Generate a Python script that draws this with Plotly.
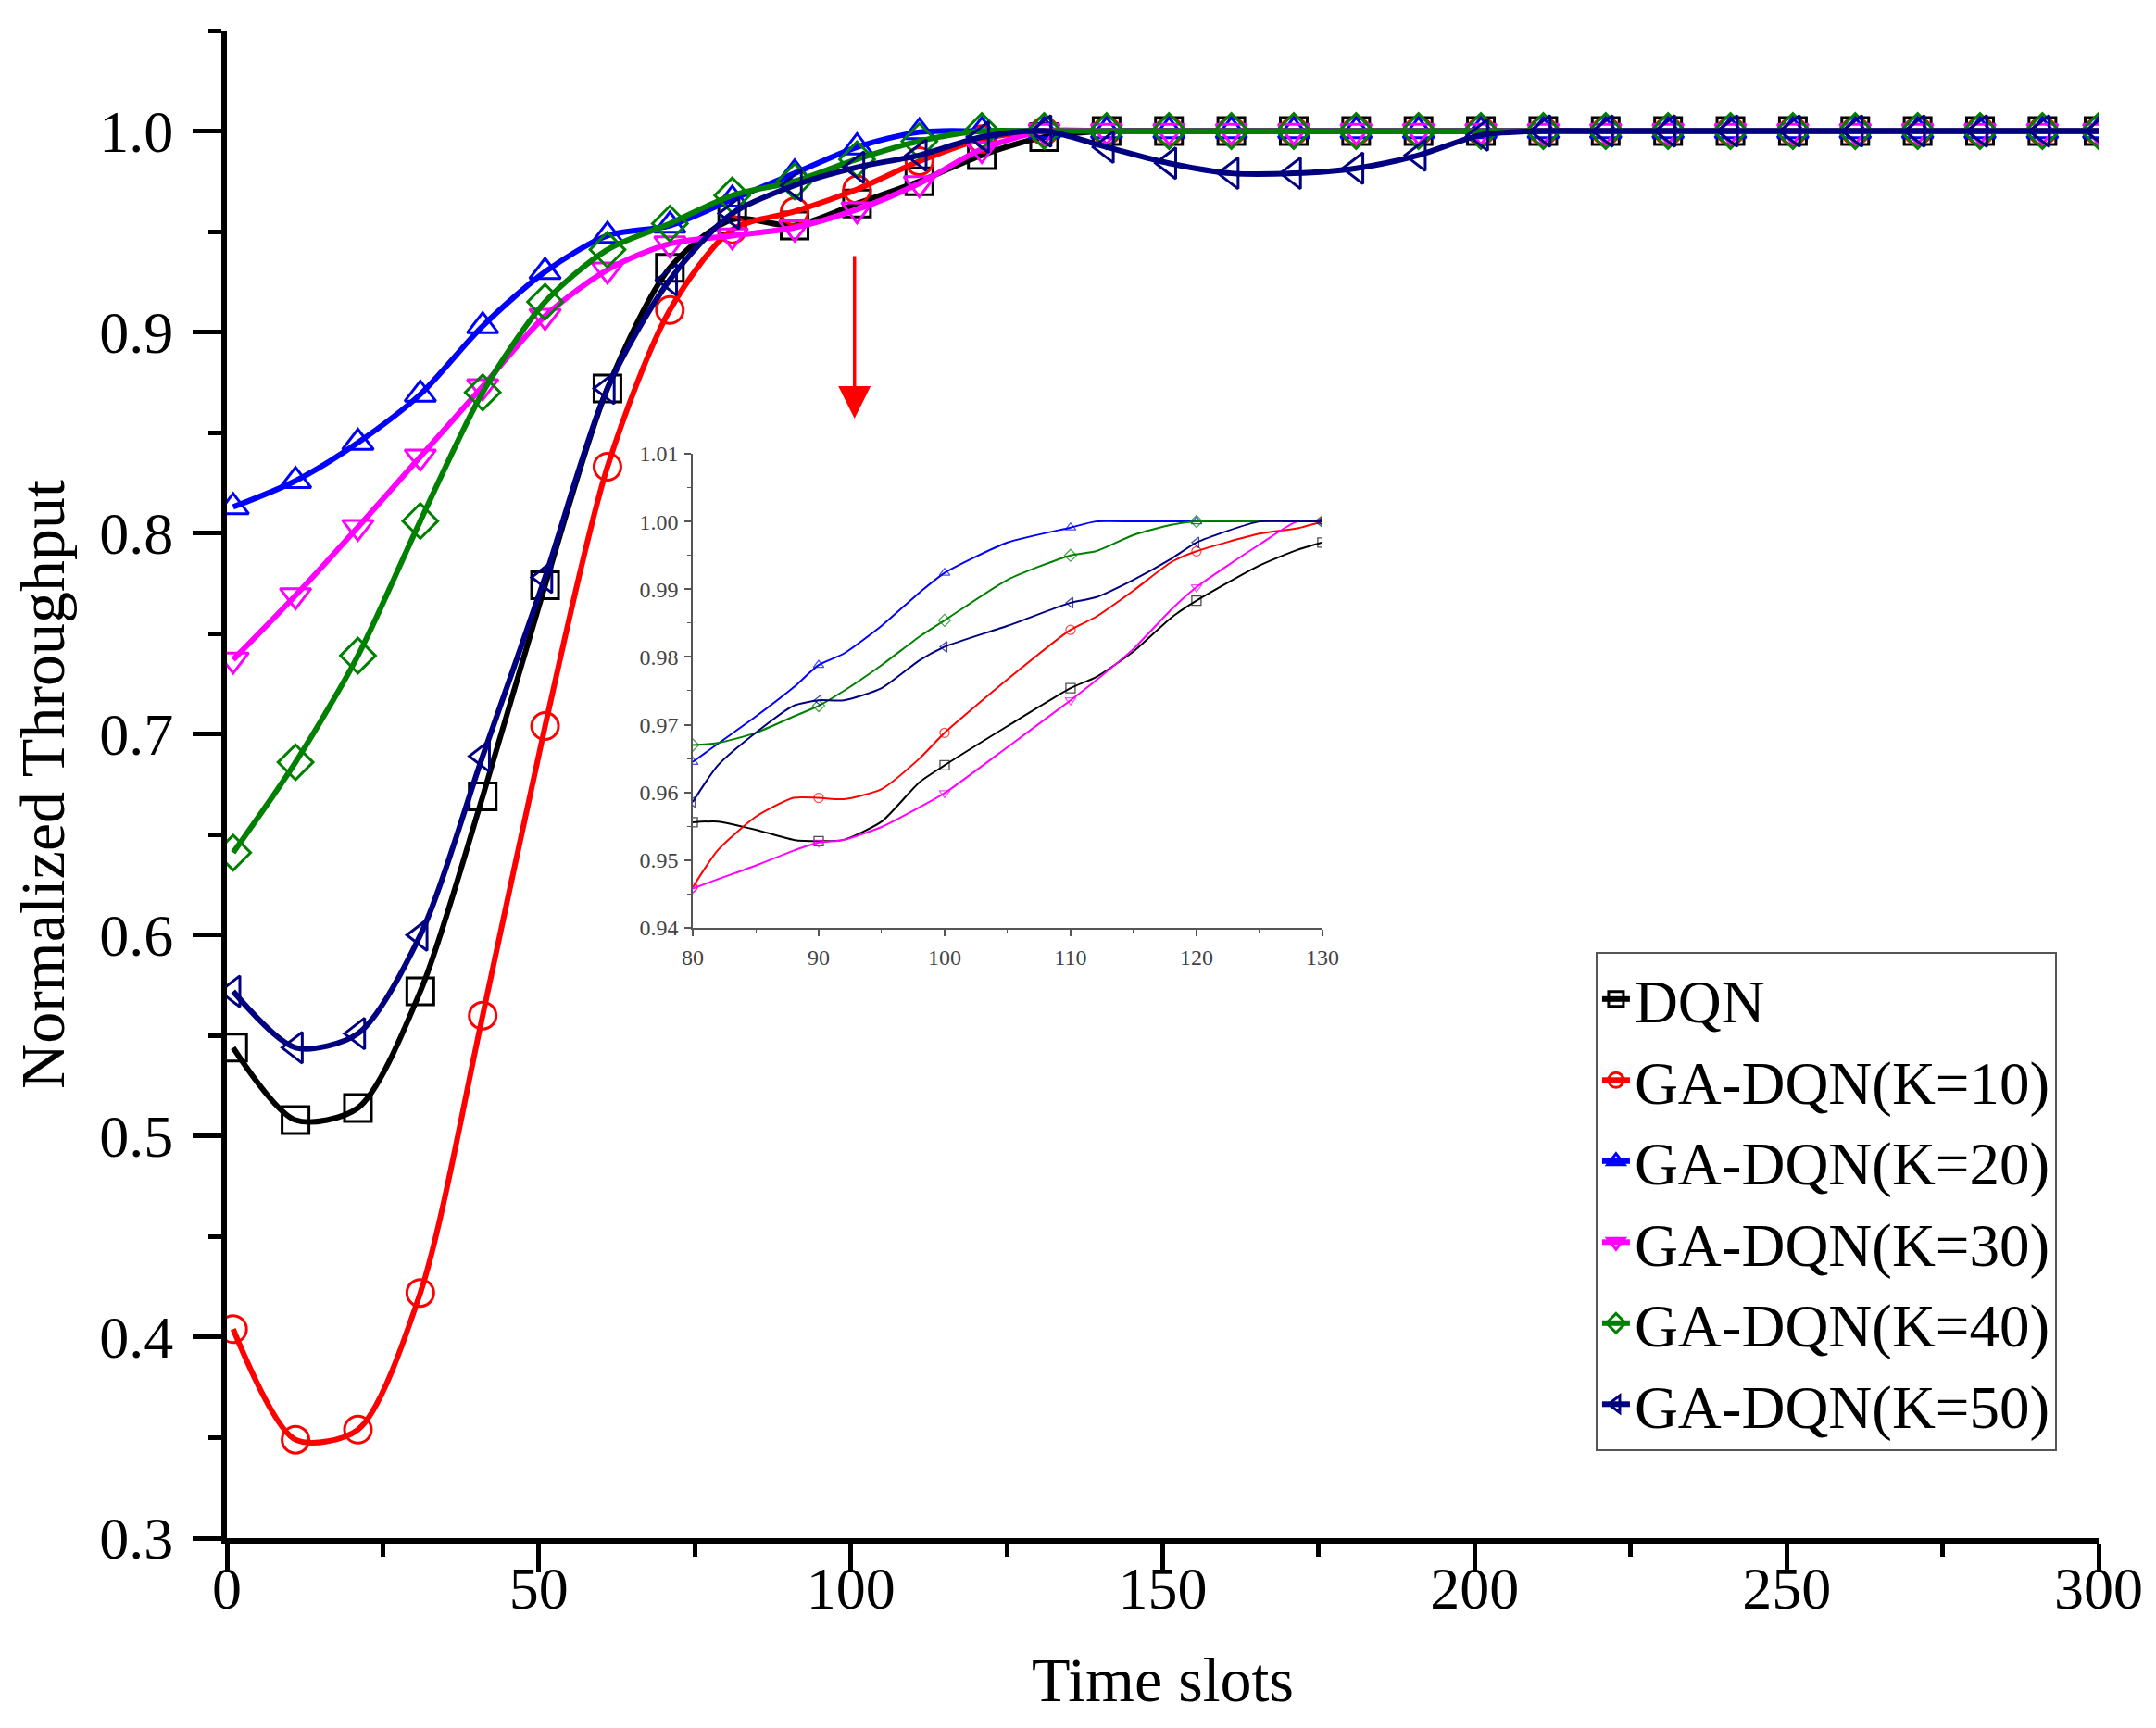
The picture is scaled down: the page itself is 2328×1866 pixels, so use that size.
import plotly.graph_objects as go

# main curves: one point every 10 slots (markers) plus the last slot
x_main = [1, 11, 21, 31, 41, 51, 61, 71, 81, 91, 101, 111, 121, 131, 141, 151,
          161, 171, 181, 191, 201, 211, 221, 231, 241, 251, 261, 271, 281, 291, 300]

dqn = [0.544, 0.508, 0.514, 0.572, 0.669, 0.774, 0.872, 0.932, 0.956, 0.953, 0.964,
       0.975, 0.988, 0.997, 1.0, 1.0, 1.0, 1.0, 1.0, 1.0, 1.0, 1.0, 1.0, 1.0, 1.0,
       1.0, 1.0, 1.0, 1.0, 1.0, 1.0]
k10 = [0.404, 0.349, 0.354, 0.422, 0.560, 0.704, 0.833, 0.911, 0.951, 0.960, 0.971,
       0.985, 0.996, 1.0, 1.0, 1.0, 1.0, 1.0, 1.0, 1.0, 1.0, 1.0, 1.0, 1.0, 1.0,
       1.0, 1.0, 1.0, 1.0, 1.0, 1.0]
k20 = [0.813, 0.826, 0.845, 0.869, 0.903, 0.930, 0.948, 0.953, 0.966, 0.979, 0.992,
       0.9995, 1.0, 1.0, 1.0, 1.0, 1.0, 1.0, 1.0, 1.0, 1.0, 1.0, 1.0, 1.0, 1.0,
       1.0, 1.0, 1.0, 1.0, 1.0, 1.0]
k30 = [0.737, 0.769, 0.803, 0.838, 0.873, 0.908, 0.931, 0.944, 0.948, 0.952, 0.961,
       0.974, 0.991, 1.0, 1.0, 1.0, 1.0, 1.0, 1.0, 1.0, 1.0, 1.0, 1.0, 1.0, 1.0,
       1.0, 1.0, 1.0, 1.0, 1.0, 1.0]
k40 = [0.641, 0.686, 0.739, 0.806, 0.870, 0.915, 0.941, 0.954, 0.968, 0.975, 0.986,
       0.995, 1.0, 1.0, 1.0, 1.0, 1.0, 1.0, 1.0, 1.0, 1.0, 1.0, 1.0, 1.0, 1.0,
       1.0, 1.0, 1.0, 1.0, 1.0, 1.0]
k50 = [0.572, 0.544, 0.551, 0.600, 0.689, 0.778, 0.872, 0.926, 0.959, 0.973, 0.982,
       0.988, 0.997, 1.0, 0.992, 0.984, 0.979, 0.979, 0.9815, 0.988, 0.998, 1.0,
       1.0, 1.0, 1.0, 1.0, 1.0, 1.0, 1.0, 1.0, 1.0]

# zoomed inset (slots 80-130)
x_in = [80, 82, 85, 88, 90, 92, 95, 98, 100, 105, 110, 112, 115, 118, 120, 125, 128, 130]
dqn_in = [0.9556, 0.9557, 0.9545, 0.9530, 0.9528, 0.9530, 0.9557, 0.9615, 0.9640,
          0.9698, 0.9754, 0.9770, 0.9808, 0.9858, 0.9883, 0.9935, 0.9958, 0.9969]
k10_in = [0.9460, 0.9515, 0.9564, 0.9592, 0.9592, 0.9590, 0.9605, 0.9650, 0.9688,
          0.9767, 0.9840, 0.9859, 0.9898, 0.9940, 0.9956, 0.9982, 0.9990, 1.0]
k20_in = [0.9645, 0.9672, 0.9712, 0.9755, 0.9788, 0.9805, 0.9846, 0.9895, 0.9924,
          0.9969, 0.9991, 1.0, 1.0, 1.0, 1.0, 1.0, 1.0, 1.0]
k30_in = [0.9458, 0.9472, 0.9492, 0.9514, 0.9526, 0.9530, 0.9549, 0.9578, 0.9599,
          0.9667, 0.9736, 0.9765, 0.9812, 0.9870, 0.9903, 0.9966, 1.0, 1.0]
k40_in = [0.9670, 0.9673, 0.9688, 0.9712, 0.9728, 0.9750, 0.9788, 0.9830, 0.9854,
          0.9914, 0.9950, 0.9956, 0.9980, 0.9995, 1.0, 1.0, 1.0, 1.0]
k50_in = [0.9586, 0.9640, 0.9688, 0.9728, 0.9736, 0.9736, 0.9754, 0.9795, 0.9815,
          0.9846, 0.9880, 0.9888, 0.9914, 0.9945, 0.9969, 1.0, 1.0, 1.0]

names = ["DQN", "GA-DQN(K=10)", "GA-DQN(K=20)", "GA-DQN(K=30)", "GA-DQN(K=40)", "GA-DQN(K=50)"]
main_series = [dqn, k10, k20, k30, k40, k50]
inset_series = [dqn_in, k10_in, k20_in, k30_in, k40_in, k50_in]
colors = ["#000000", "#FF0000", "#0000FF", "#FF00FF", "#008000", "#000080"]
symbols = ["square-open", "circle-open", "triangle-up-open", "triangle-down-open",
           "diamond-open", "triangle-left-open"]

FONT = "Liberation Serif"

fig = go.Figure()

for name, ys, c, s in zip(names, main_series, colors, symbols):
    fig.add_trace(go.Scatter(
        x=x_main, y=ys, name=name, mode="lines+markers",
        line=dict(color=c, width=6, shape="spline", smoothing=0.8),
        marker=dict(symbol=s, size=29, color=c, line=dict(color=c, width=3)),
    ))

inset_sizes = [10 if x % 10 == 0 else 0 for x in x_in]
for name, ys, c, s in zip(names, inset_series, colors, symbols):
    fig.add_trace(go.Scatter(
        x=x_in, y=ys, name=name, mode="lines+markers", showlegend=False,
        xaxis="x3", yaxis="y3",
        line=dict(color=c, width=2, shape="spline", smoothing=0.6),
        marker=dict(symbol=s, size=inset_sizes, color=c, line=dict(color=c, width=1.3)),
    ))

axis_common = dict(showgrid=False, zeroline=False, showline=True, linecolor="black",
                   linewidth=6, tickcolor="black", tickwidth=5, automargin=False)

fig.update_layout(
    width=2320, height=1858,
    margin=dict(l=237, r=62, t=25, b=205),
    paper_bgcolor="white", plot_bgcolor="white",
    font=dict(family=FONT, color="black"),
    xaxis=dict(range=[0, 300], tick0=0, dtick=50, ticks="outside", ticklen=31,
               minor=dict(dtick=25, ticks="outside", ticklen=14, tickwidth=5, tickcolor="black"),
               tickfont=dict(size=64), ticklabelstandoff=-38,
               title=dict(text="Time slots", font=dict(size=68), standoff=42),
               **axis_common),
    yaxis=dict(range=[0.3, 1.05], tick0=0.3, dtick=0.1, tickformat=".1f",
               ticks="outside", ticklen=31,
               minor=dict(dtick=0.05, ticks="outside", ticklen=14, tickwidth=5, tickcolor="black"),
               tickfont=dict(size=64), ticklabelstandoff=8,
               title=dict(text="Normalized Throughput", font=dict(size=68), standoff=18),
               **axis_common),
    xaxis2=dict(overlaying="x", side="top", anchor="y", range=[0, 300], tick0=0, dtick=60,
                ticks="inside", ticklen=30, showticklabels=False,
                minor=dict(dtick=30, ticks="inside", ticklen=15, tickwidth=5, tickcolor="black"),
                **axis_common),
    yaxis2=dict(overlaying="y", side="right", anchor="x", range=[0.3, 1.05], tick0=0.3,
                dtick=0.15, ticks="inside", ticklen=30, showticklabels=False,
                minor=dict(dtick=0.075, ticks="inside", ticklen=15, tickwidth=5, tickcolor="black"),
                **axis_common),
    xaxis3=dict(domain=[0.2489, 0.5853], anchor="y3", range=[80, 130], tick0=80, dtick=10,
                showgrid=False, zeroline=False, showline=True, linecolor="#555", linewidth=1.5,
                ticks="outside", ticklen=7, tickwidth=1.5, tickcolor="#555",
                minor=dict(dtick=5, ticks="outside", ticklen=4, tickwidth=1.2, tickcolor="#555"),
                tickfont=dict(size=24, color="#444"), ticklabelstandoff=2),
    yaxis3=dict(domain=[0.4048, 0.7193], anchor="x3", range=[0.94, 1.01], tick0=0.94,
                dtick=0.01, tickformat=".2f",
                showgrid=False, zeroline=False, showline=True, linecolor="#555", linewidth=1.5,
                ticks="outside", ticklen=7, tickwidth=1.5, tickcolor="#555",
                minor=dict(dtick=0.005, ticks="outside", ticklen=4, tickwidth=1.2, tickcolor="#555"),
                tickfont=dict(size=24, color="#444"), ticklabelstandoff=2),
    xaxis4=dict(overlaying="x3", side="top", anchor="y3", range=[80, 130], tick0=80, dtick=5,
                showgrid=False, zeroline=False, showline=True, linecolor="#555", linewidth=1.5,
                ticks="inside", ticklen=6, tickwidth=1.2, tickcolor="#555", showticklabels=False),
    yaxis4=dict(overlaying="y3", side="right", anchor="x3", range=[0.94, 1.01], tick0=0.94,
                dtick=0.004, showgrid=False, zeroline=False, showline=True, linecolor="#555",
                linewidth=1.5, ticks="inside", ticklen=6, tickwidth=1.2, tickcolor="#555",
                showticklabels=False),
    legend=dict(x=0.9777, xanchor="right", y=0.3888, yanchor="top",
                bgcolor="white", bordercolor="#555", borderwidth=2,
                font=dict(family=FONT, size=65, color="black"), tracegroupgap=0),
    showlegend=True,
)

# red arrow pointing from the main curves to the inset
arrow_x = 100.6
arrow_tail = 0.9385
arrow_head = 0.857
fig.add_annotation(x=arrow_x, y=arrow_head, ax=arrow_x, ay=arrow_tail, xref="x", yref="y",
                   axref="x", ayref="y", text="", showarrow=True, arrowhead=2,
                   arrowsize=2, arrowwidth=3.5, arrowcolor="#FF0000")

fig.write_html("out.html")
